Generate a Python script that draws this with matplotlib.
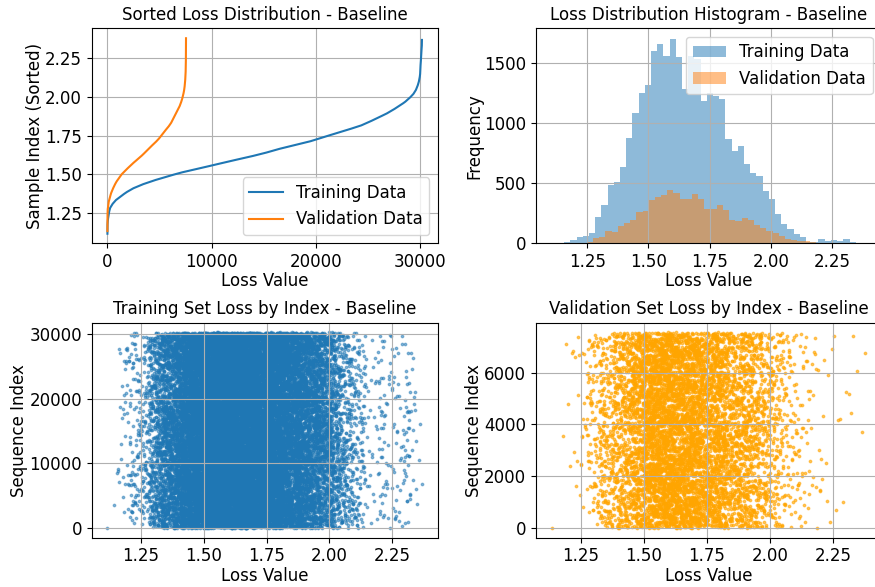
import numpy as np
import matplotlib
matplotlib.use('Agg')
import matplotlib.pyplot as plt
from matplotlib.ticker import MultipleLocator

plt.rcParams['font.size'] = 12
plt.rcParams['axes.titlesize'] = 12
plt.rcParams['axes.labelpad'] = 0.8

# histogram counts (50 bins each)
train_range = (1.105, 2.371)
train_counts = [1, 1, 13, 27, 55, 60, 88, 220, 318, 488,
                515, 638, 878, 1083, 1255, 1320, 1600, 1665, 1565, 1705,
                1550, 1290, 1560, 1540, 1188, 1252, 1230, 1200, 869, 767,
                811, 660, 588, 562, 437, 373, 248, 160, 123, 82,
                58, 14, 14, 36, 19, 25, 17, 36, 14, 4]
val_range = (1.122, 2.385)
val_counts = [1, 0, 2, 4, 8, 14, 44, 53, 108, 93,
              146, 170, 194, 259, 273, 364, 391, 407, 443, 422,
              371, 371, 411, 369, 288, 289, 324, 275, 194, 187,
              210, 192, 150, 128, 100, 84, 62, 40, 32, 24,
              17, 11, 8, 5, 3, 3, 2, 3, 1, 2]


def expand(counts, lo, hi):
    # spread each bin's count evenly inside the bin -> sorted loss values
    edges = np.linspace(lo, hi, len(counts) + 1)
    vals = []
    for c, a, b in zip(counts, edges[:-1], edges[1:]):
        vals.append(a + (np.arange(c) + 0.5) * (b - a) / max(c, 1))
    return edges, np.concatenate(vals)


def by_index(sorted_vals):
    # deterministic (quadratic Weyl) ordering of samples along the sequence index
    n = len(sorted_vals)
    i = np.arange(n, dtype=float)
    order = np.argsort((i * i * 0.6180339887) % 1.0)
    out = np.empty(n)
    out[order] = sorted_vals
    return out


train_edges, train_sorted = expand(train_counts, *train_range)
val_edges, val_sorted = expand(val_counts, *val_range)
train_loss = by_index(train_sorted)
val_loss = by_index(val_sorted)

fig = plt.figure(figsize=(8.75, 5.87), dpi=100)
ax1 = fig.add_axes([0.1048, 0.5852, 0.3954, 0.3663])
ax2 = fig.add_axes([0.6126, 0.5852, 0.3943, 0.3663])
ax3 = fig.add_axes([0.1048, 0.0840, 0.3954, 0.3663])
ax4 = fig.add_axes([0.6126, 0.0840, 0.3943, 0.3663])

# sorted losses
ax1.plot(np.sort(train_loss), label='Training Data')
ax1.plot(np.sort(val_loss), label='Validation Data')
ax1.set_title('Sorted Loss Distribution - Baseline')
ax1.set_xlabel('Loss Value')
ax1.set_ylabel('Sample Index (Sorted)')
ax1.legend(loc='lower right')
ax1.grid(True)

# histogram
ax2.hist(train_loss, bins=train_edges, alpha=0.5, label='Training Data')
ax2.hist(val_loss, bins=val_edges, alpha=0.5, label='Validation Data')
ax2.set_title('Loss Distribution Histogram - Baseline')
ax2.set_xlabel('Loss Value')
ax2.set_ylabel('Frequency')
ax2.legend(loc='upper right')
ax2.grid(True)

# loss by index
ax3.scatter(train_loss, np.arange(len(train_loss)), s=3, alpha=0.5)
ax3.set_title('Training Set Loss by Index - Baseline')
ax3.set_xlabel('Loss Value')
ax3.set_ylabel('Sequence Index')
ax3.grid(True)

ax4.scatter(val_loss, np.arange(len(val_loss)), s=3, alpha=0.6, color='orange')
ax4.set_title('Validation Set Loss by Index - Baseline')
ax4.set_xlabel('Loss Value')
ax4.set_ylabel('Sequence Index')
ax4.grid(True)

for ax in (ax2, ax3, ax4):
    ax.xaxis.set_major_locator(MultipleLocator(0.25))

fig.savefig('out.png', dpi=100)
